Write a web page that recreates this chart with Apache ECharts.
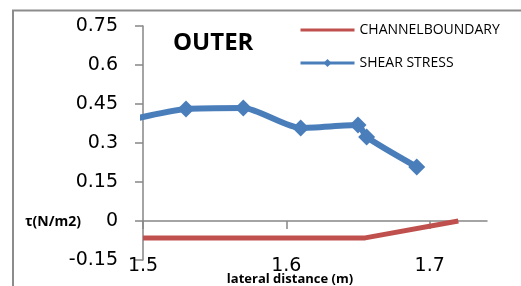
<!DOCTYPE html>
<html>
<head>
<meta charset="utf-8">
<script src="https://cdn.jsdelivr.net/npm/echarts@6/dist/echarts.min.js"></script>
<style>
html,body{margin:0;padding:0;background:#fff;}
#c{width:521px;height:286px;}
</style>
</head>
<body>
<div id="c"></div>
<script>
// Data
const shearX = [1.47, 1.53, 1.57, 1.61, 1.65, 1.656, 1.691];
const shearY = [0.36, 0.431, 0.435, 0.358, 0.369, 0.323, 0.208];
const boundaryX = [1.5, 1.655, 1.72];
const boundaryY = [-0.065, -0.065, 0];
const xTicks = [1.5, 1.6, 1.7];
const yTicks = [-0.15, 0, 0.15, 0.3, 0.45, 0.6, 0.75];
const seriesNames = ['CHANNELBOUNDARY', 'SHEAR STRESS'];
const titleText = 'OUTER';
const xName = 'lateral distance (m)';
const yName = 'τ(N/m2)';

const pair = (xs, ys) => xs.map((x, i) => [x, ys[i]]);
const axisGrey = '#868686';

const chart = echarts.init(document.getElementById('c'), null, {renderer: 'canvas'});
chart.setOption({
  animation: false,
  backgroundColor: '#ffffff',
  grid: {left: 143, top: 26, width: 344, height: 234, containLabel: false, outerBoundsMode: 'none'},
  graphic: [
    {type: 'rect', shape: {x: 13, y: 10.5, width: 1000, height: 1000},
     style: {fill: 'none', stroke: '#8c8c8c', lineWidth: 2}, silent: true, z: -1},
    {type: 'text', x: 173, y: 43,
     style: {text: titleText, font: 'bold 24px "Open Sans"', fill: '#000', verticalAlign: 'middle', align: 'left'}},
    {type: 'text', x: 25, y: 222,
     style: {text: yName, font: 'bold 14px "Open Sans"', fill: '#000', verticalAlign: 'middle', align: 'left'}}
  ],
  legend: {
    orient: 'vertical',
    left: 299, top: 23, padding: 0,
    itemWidth: 54, itemHeight: 10, itemGap: 19,
    data: [
      {name: seriesNames[0], itemStyle: {opacity: 0}},
      {name: seriesNames[1]}
    ],
    lineStyle: {width: 3},
    textStyle: {fontFamily: 'Open Sans', fontSize: 14, color: '#000'}
  },
  xAxis: [
    {
      // labels and name, at the bottom of the plot
      type: 'value', min: 1.5, max: 1.74, interval: 0.1, position: 'bottom',
      name: xName, nameLocation: 'middle', nameGap: 13, nameMoveOverlap: false,
      nameTextStyle: {fontFamily: 'Open Sans', fontWeight: 'bold', fontSize: 13, color: '#000', padding: [0, 50, 0, 0]},
      axisLine: {show: false, onZero: false},
      axisTick: {show: false},
      axisLabel: {margin: -3, fontFamily: 'DejaVu Sans', fontSize: 19, color: '#000', customValues: xTicks, hideOverlap: false},
      splitLine: {show: false}
    },
    {
      // axis line and ticks crossing at zero
      type: 'value', min: 1.5, max: 1.74, interval: 0.1, position: 'bottom',
      axisLine: {show: true, onZero: true, lineStyle: {color: axisGrey, width: 1.5}},
      axisTick: {show: true, length: 8, lineStyle: {color: axisGrey, width: 1.5}, customValues: xTicks},
      axisLabel: {show: false},
      splitLine: {show: false}
    }
  ],
  yAxis: {
    type: 'value', min: -0.15, max: 0.75, interval: 0.15,
    axisLine: {show: true, onZero: false, lineStyle: {color: axisGrey, width: 1.5}},
    axisTick: {show: true, length: 8, lineStyle: {color: axisGrey, width: 1.5}, customValues: yTicks},
    axisLabel: {margin: 25, fontFamily: 'DejaVu Sans', fontSize: 19, color: '#000', customValues: yTicks},
    splitLine: {show: false}
  },
  series: [
    {
      name: seriesNames[0], type: 'line', data: pair(boundaryX, boundaryY),
      symbol: 'none', lineStyle: {color: '#C0504D', width: 5}, itemStyle: {color: '#C0504D'},
      clip: true, z: 2
    },
    {
      name: seriesNames[1], type: 'line', data: pair(shearX, shearY),
      smooth: 0.22, symbol: 'diamond', symbolSize: 17,
      lineStyle: {color: '#4A7EBB', width: 6}, itemStyle: {color: '#4A7EBB'},
      clip: true, z: 3
    }
  ]
});
</script>
</body>
</html>
